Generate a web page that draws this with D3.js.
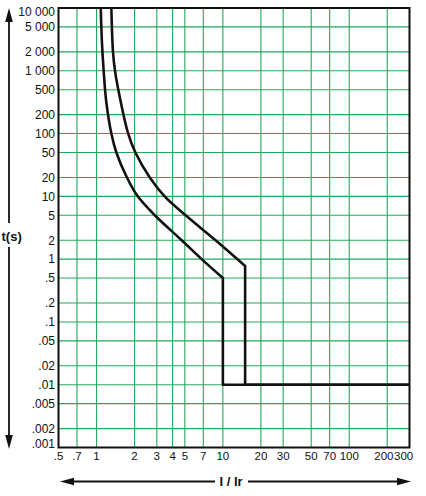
<!DOCTYPE html>
<html>
<head>
<meta charset="utf-8">
<script src="https://cdn.jsdelivr.net/npm/d3@7"></script>
<style>
  html, body { margin: 0; padding: 0; background: #fff; }
  svg { display: block; }
  text { font-family: "Liberation Sans", Arial, Helvetica, sans-serif; fill: #111; }
</style>
</head>
<body>
<svg id="chart" width="426" height="496"></svg>
<script>
// ---- data ----
const xTicks = [0.5, 0.7, 1, 2, 3, 4, 5, 7, 10, 20, 30, 50, 70, 100, 200, 300];
const xTickLabels = [".5", ".7", "1", "2", "3", "4", "5", "7", "10", "20", "30", "50", "70", "100", "200", "300"];
const yTicks = [10000, 5000, 2000, 1000, 500, 200, 100, 50, 20, 10, 5, 2, 1, 0.5, 0.2, 0.1, 0.05, 0.02, 0.01, 0.005, 0.002, 0.001];
const yTickLabels = ["10 000", "5 000", "2 000", "1 000", "500", "200", "100", "50", "20", "10", "5", "2", "1", ".5", ".2", ".1", ".05", ".02", ".01", ".005", ".002", ".001"];

// lower (minimum) trip curve: thermal part
const minCurveI = [1.08, 1.102, 1.139, 1.192, 1.31, 1.435, 1.74, 2.12, 2.89, 4.72, 6.79, 10];
const minCurveT = [10000, 3000, 1000, 330, 100, 50, 20, 10, 5, 2, 1, 0.5];
// lower curve: magnetic part
const minMagI = [10, 10, 300];
const minMagT = [0.5, 0.01, 0.01];

// upper (maximum) trip curve: thermal part
const maxCurveI = [1.31, 1.35, 1.40, 1.55, 1.78, 2.03, 2.64, 3.46, 5.07, 8.75, 15];
const maxCurveT = [10000, 2000, 1000, 330, 100, 50, 20, 10, 5, 2, 0.78];
// upper curve: magnetic part
const maxMagI = [15, 15, 300];
const maxMagT = [0.78, 0.01, 0.01];

const xDomain = [0.5, 300];
const yDomain = [0.001, 10000];

(function () {
// ---- layout ----
const mLeft = 58.5, mRight = 409.5, mTop = 8, mBottom = 447.5;
const svg = d3.select("#chart");

const x = d3.scaleLog().domain(xDomain).range([mLeft, mRight]);
const y = d3.scaleLog().domain(yDomain).range([mBottom, mTop]);

const gridColor = "#22a85c";

// grid
const grid = svg.append("g");
grid.selectAll("line.v").data(xTicks).enter().append("line")
  .attr("x1", d => x(d)).attr("x2", d => x(d))
  .attr("y1", mTop).attr("y2", mBottom)
  .attr("stroke", gridColor).attr("stroke-width", 1.1);
grid.selectAll("line.h").data(yTicks).enter().append("line")
  .attr("x1", mLeft).attr("x2", mRight)
  .attr("y1", d => y(d)).attr("y2", d => y(d))
  .attr("stroke", gridColor).attr("stroke-width", 1.1);

// clip
svg.append("clipPath").attr("id", "clip").append("rect")
  .attr("x", mLeft).attr("y", mTop).attr("width", mRight - mLeft).attr("height", mBottom - mTop);

const curves = svg.append("g").attr("clip-path", "url(#clip)");
const smooth = d3.line().x(d => x(d[0])).y(d => y(d[1])).curve(d3.curveCatmullRom.alpha(0.5));
const straight = d3.line().x(d => x(d[0])).y(d => y(d[1]));

function zip(a, b) { return a.map((v, i) => [v, b[i]]); }

[[minCurveI, minCurveT, minMagI, minMagT], [maxCurveI, maxCurveT, maxMagI, maxMagT]].forEach(([ci, ct, mi, mt]) => {
  const p1 = smooth(zip(ci, ct));
  const p2 = straight(zip(mi, mt)).replace(/^M/, "L");
  curves.append("path").attr("d", p1 + p2)
    .attr("fill", "none").attr("stroke", "#111").attr("stroke-width", 2.6)
    .attr("stroke-linejoin", "round").attr("stroke-linecap", "round");
});

// frame
svg.append("rect").attr("x", mLeft).attr("y", mTop).attr("width", mRight - mLeft).attr("height", mBottom - mTop)
  .attr("fill", "none").attr("stroke", "#111").attr("stroke-width", 2);

// y labels
svg.append("g").selectAll("text").data(yTicks).enter().append("text")
  .attr("x", 55)
  .attr("y", (d, i) => y(d) + (i === 0 ? 3.2 : (i === yTicks.length - 1 ? -3.5 : 0)))
  .attr("dy", "0.36em")
  .attr("text-anchor", "end")
  .attr("font-size", 12)
  .text((d, i) => yTickLabels[i]);

// x labels
const nX = xTicks.length;
svg.append("g").selectAll("text").data(xTicks).enter().append("text")
  .attr("x", (d, i) => i === nX - 1 ? 394 : (i === nX - 2 ? 393.5 : x(d)))
  .attr("y", 460)
  .attr("text-anchor", (d, i) => i === nX - 1 ? "start" : (i === nX - 2 ? "end" : "middle"))
  .attr("font-size", 11.5)
  .text((d, i) => xTickLabels[i]);

// vertical arrow with t(s)
const ax = 9;
svg.append("line").attr("x1", ax).attr("x2", ax).attr("y1", 20).attr("y2", 223).attr("stroke", "#111").attr("stroke-width", 1.8);
svg.append("line").attr("x1", ax).attr("x2", ax).attr("y1", 247).attr("y2", 437).attr("stroke", "#111").attr("stroke-width", 1.8);
svg.append("path").attr("d", `M${ax},8 L${ax - 3.8},22 L${ax + 3.8},22 Z`).attr("fill", "#111");
svg.append("path").attr("d", `M${ax},449 L${ax - 3.8},435 L${ax + 3.8},435 Z`).attr("fill", "#111");
svg.append("text").attr("x", 1.5).attr("y", 240.5).attr("font-size", 13).attr("font-weight", "bold").text("t(s)");

// horizontal arrow with I / Ir
const ay = 481.5;
svg.append("line").attr("x1", 72).attr("x2", 215).attr("y1", ay).attr("y2", ay).attr("stroke", "#111").attr("stroke-width", 1.8);
svg.append("line").attr("x1", 248).attr("x2", 398).attr("y1", ay).attr("y2", ay).attr("stroke", "#111").attr("stroke-width", 1.8);
svg.append("path").attr("d", `M60,${ay} L74,${ay - 3.8} L74,${ay + 3.8} Z`).attr("fill", "#111");
svg.append("path").attr("d", `M411,${ay} L397,${ay - 3.8} L397,${ay + 3.8} Z`).attr("fill", "#111");
svg.append("text").attr("x", 231).attr("y", 485.5).attr("text-anchor", "middle").attr("font-size", 13).attr("font-weight", "bold").text("I / Ir");
})();
</script>
</body>
</html>
